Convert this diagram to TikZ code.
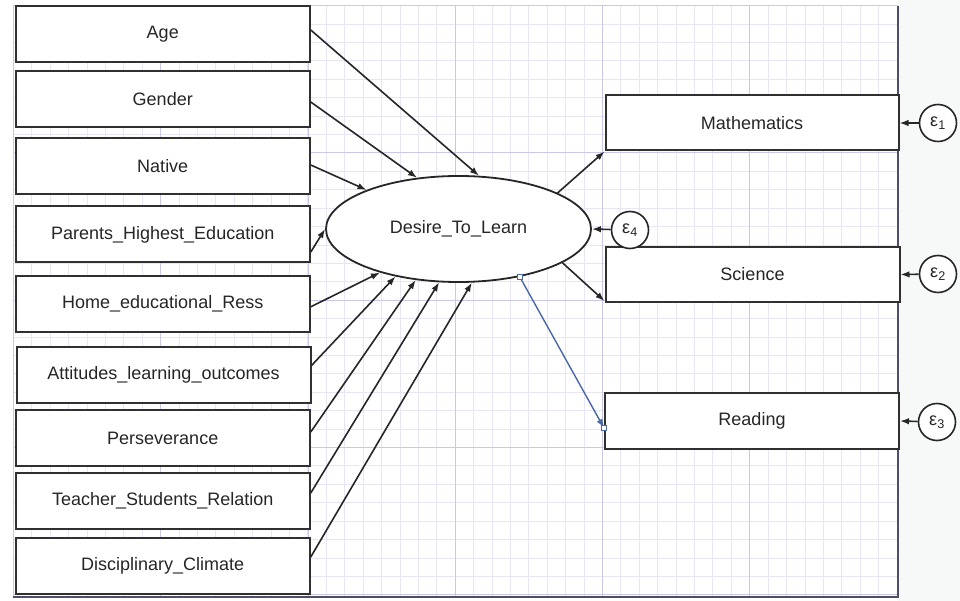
\documentclass[tikz,border=0pt]{standalone}
\usepackage{fontspec}
\setmainfont{Liberation Sans}
\usetikzlibrary{arrows.meta,shapes.geometric}
\definecolor{gridminor}{HTML}{E6E6F5}
\definecolor{gridmajor}{HTML}{C8C8E8}
\definecolor{frameline}{HTML}{4E4E66}
\definecolor{pagegray}{HTML}{F7F8F8}
\definecolor{boxline}{HTML}{303030}
\definecolor{selblue}{HTML}{4A68A8}
\tikzset{
  obsbox/.style={draw=boxline, line width=2pt, fill=white, minimum width=294pt,
    minimum height=56pt, inner sep=0pt, font=\fontsize{18}{21}\selectfont, text=black!85},
  latent/.style={ellipse, draw=black!85, line width=1.8pt, fill=white, minimum width=265pt,
    minimum height=106pt, inner sep=0pt, font=\fontsize{18}{21}\selectfont, text=black!85},
  errc/.style={circle, draw=black!85, line width=1.6pt, fill=white, minimum size=37pt,
    inner sep=0pt, font=\fontsize{18}{18}\selectfont, text=black!85},
  link/.style={-{Latex[length=9pt,width=6.5pt]}, line width=1.6pt, draw=black!85},
  selhandle/.style={draw=selblue, fill=white, line width=0.8pt, minimum size=5pt, inner sep=0pt}
}
\begin{document}
\begin{tikzpicture}[x=1pt, y=-1pt]
    \useasboundingbox (0,0) rectangle (960,601);
    \fill[white] (0,0) rectangle (960,601);
    \fill[pagegray] (898,0) rectangle (960,601);
    % grid
    \foreach \i in {0,...,48}
        \draw[gridminor, line width=1pt] ({13.4+\i*18.41},5.7) -- ({13.4+\i*18.41},597);
    \foreach \j in {0,...,32}
        \draw[gridminor, line width=1pt] (13.4,{5.7+\j*18.41}) -- (898,{5.7+\j*18.41});
    \foreach \i in {0,...,6}
        \draw[gridmajor, line width=1pt] ({13.4+\i*147.3},5.7) -- ({13.4+\i*147.3},597);
    \foreach \j in {0,...,4}
        \draw[gridmajor, line width=1pt] (13.4,{5.7+\j*147.3}) -- (898,{5.7+\j*147.3});
    \draw[frameline, line width=2pt] (898,5.7) -- (898,597) -- (13.4,597);

    % observed causes
    \node[obsbox] (age) at (162.75,34.5) {Age};
    \node[obsbox] (gender) at (162.75,99) {Gender};
    \node[obsbox] (native) at (162.75,166.5) {Native};
    \node[obsbox] (parents) at (162.75,234.5) {Parents\_Highest\_Education};
    \node[obsbox] (home) at (162.75,303.8) {Home\_educational\_Ress};
    \node[obsbox] (attit) at (163.5,374.5) {Attitudes\_learning\_outcomes};
    \node[obsbox] (persev) at (162.75,438) {Perseverance};
    \node[obsbox] (teacher) at (162.75,501) {Teacher\_Students\_Relation};
    \node[obsbox] (discip) at (162.75,566) {Disciplinary\_Climate};

    % latent and outcomes
    \node[latent] (dtl) at (458.5,229) {Desire\_To\_Learn};
    \node[obsbox, minimum width=293pt, minimum height=55pt] (math) at (752,123) {Mathematics};
    \node[obsbox, minimum width=294pt, minimum height=55pt] (sci) at (752.5,274.5) {Science};
    \node[obsbox, minimum width=294pt, minimum height=56pt] (read) at (752,421) {Reading};

    % errors
    \node[errc] (e1) at (938,123) {ε\textsubscript{1}};
    \node[errc] (e2) at (938,274) {ε\textsubscript{2}};
    \node[errc] (e3) at (937,422) {ε\textsubscript{3}};
    \node[errc] (e4) at (630,230) {ε\textsubscript{4}};

    \draw[link] ([yshift=4.5pt]age.east) -- (dtl.69);
    \draw[link] ([yshift=-3pt]gender.east) -- (dtl.129.6);
    \draw[link] ([yshift=1.5pt]native.east) -- (dtl.157.2);
    \draw[link] ([yshift=-17.5pt]parents.east) -- (dtl.180);
    \draw[link] ([yshift=-3pt]home.east) -- (dtl.209.7);
    \draw[link] ([yshift=9pt]attit.east) -- (dtl.217.7);
    \draw[link] ([yshift=6pt]persev.east) -- (dtl.230.1);
    \draw[link] ([yshift=8pt]teacher.east) -- (dtl.250.8);
    \draw[link] ([yshift=9pt]discip.east) -- (dtl.284.3);

    \draw[link] (dtl.20.5) -- (math.south west);
    \draw[link] (dtl.342.8) -- ([yshift=2pt]sci.south west);
    \draw[link, draw=selblue, line width=1.4pt] (dtl.322.9) -- ([yshift=-7pt]read.west);
    \node[selhandle] (hstart) at (dtl.322.9) {};
    \node[selhandle] (hend) at ([yshift=-7pt]read.west) {};

    \draw[link] (e1) -- (math.east);
    \draw[link] (e2) -- (sci.east);
    \draw[link] (e3) -- (read.east);
    \draw[link] (e4) -- (dtl.east);
\end{tikzpicture}
\end{document}
